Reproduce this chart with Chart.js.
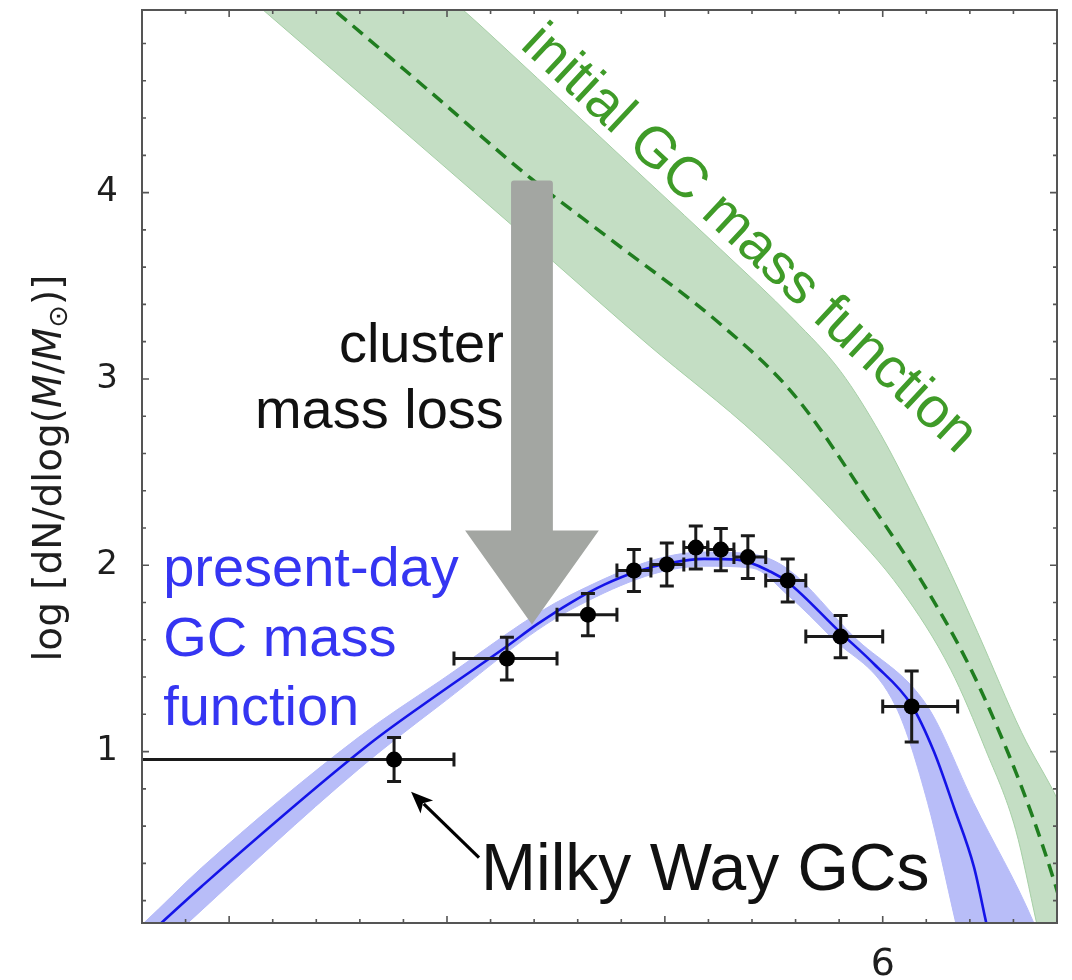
<!DOCTYPE html>
<html>
<head>
<meta charset="utf-8">
<script src="https://cdn.jsdelivr.net/npm/chart.js@4/dist/chart.umd.min.js"></script>
<style>
  html, body { margin: 0; padding: 0; background: #ffffff; }
  #wrap { width: 1072px; height: 980px; position: relative; }
</style>
</head>
<body>
<div id="wrap"><canvas id="gcmf" width="1072" height="980"></canvas></div>
<script>
// ---- axis ranges (log M / log dN/dlogM) ----
const xAxisMin = 2.6, xAxisMax = 6.8;
const yAxisMin = 0.08, yAxisMax = 4.98;
const xLabelTicks = [6];
const yLabelTicks = [1, 2, 3, 4];

// ---- Milky Way globular clusters: binned mass function ----
const gcLogM  = [3.757, 4.275, 4.647, 4.858, 5.009, 5.142, 5.257, 5.381, 5.564, 5.807, 6.133];
const gcLogN  = [0.957, 1.499, 1.735, 1.972, 2.004, 2.095, 2.084, 2.044, 1.918, 1.617, 1.242];
const gcBinLo = [2.300, 4.032, 4.505, 4.780, 4.936, 5.087, 5.197, 5.317, 5.463, 5.647, 6.000];
const gcBinHi = [4.032, 4.505, 4.780, 4.936, 5.087, 5.197, 5.317, 5.463, 5.647, 6.000, 6.344];
const gcErr   = [0.118, 0.115, 0.113, 0.113, 0.115, 0.115, 0.113, 0.115, 0.115, 0.113, 0.190];

// ---- present-day GC mass function (best fit and its uncertainty band) ----
const pdLogM = [2.55, 2.69, 2.872, 3.651, 3.957, 4.275, 4.416, 4.569, 4.722, 4.875, 5.028, 5.180, 5.333, 5.486, 5.563, 5.807, 5.960, 6.132, 6.235, 6.327, 6.419, 6.472, 6.55];
const pdLogN = [-0.065, 0.082, 0.275, 1.047, 1.306, 1.565, 1.685, 1.800, 1.896, 1.968, 2.013, 2.034, 2.030, 1.965, 1.910, 1.637, 1.470, 1.250, 1.000, 0.700, 0.380, 0.098, -0.33];
const pdHiLogM = [2.50, 2.610, 2.872, 3.592, 3.959, 4.569, 5.179, 5.400, 5.564, 5.867, 6.206, 6.417, 6.693, 6.80];
const pdHiLogN = [-0.03, 0.082, 0.375, 1.075, 1.372, 1.842, 2.071, 2.060, 1.980, 1.617, 1.242, 0.726, 0.082, -0.25];
const pdLoLogM = [2.50, 2.812, 3.592, 3.959, 4.569, 5.179, 5.400, 5.564, 5.761, 6.060, 6.206, 6.335, 6.450, 6.80];
const pdLoLogN = [-0.26, 0.082, 0.903, 1.242, 1.762, 1.995, 1.985, 1.840, 1.617, 1.242, 0.726, 0.082, -0.50, -2.50];

// ---- initial GC mass function (median and its band) ----
const imLogM = [3.42, 3.500, 3.927, 4.385, 4.752, 5.257, 5.592, 5.931, 6.183, 6.399, 6.569, 6.688, 6.789, 6.85];
const imLogN = [5.04, 4.962, 4.537, 4.076, 3.748, 3.292, 2.916, 2.353, 1.907, 1.456, 1.011, 0.651, 0.297, 0.05];
const imHiLogM = [3.00, 4.064, 4.248, 4.583, 4.922, 5.257, 5.592, 5.807, 5.991, 6.147, 6.298, 6.436, 6.638, 6.803, 6.95];
const imHiLogN = [6.00, 4.990, 4.795, 4.430, 4.060, 3.695, 3.319, 3.040, 2.702, 2.353, 1.993, 1.639, 1.102, 0.742, 0.35];
const imLoLogM = [3.00, 3.156, 3.697, 4.294, 4.482, 4.922, 5.427, 5.807, 6.083, 6.312, 6.472, 6.610, 6.706, 6.80, 6.95];
const imLoLogN = [5.14, 4.980, 4.435, 3.829, 3.636, 3.185, 2.691, 2.245, 1.870, 1.440, 1.011, 0.581, 0.082, -0.40, -1.40];

// ---- annotation anchors, in data units ----
const massLossArrow = { x: 4.39, top: 4.065, headBase: 2.186, tip: 1.682, shaftHalf: 0.096, headHalf: 0.307 };
const clusterLabel = { x: 4.261, lines: ['cluster', 'mass loss'], baselines: [3.093, 2.734] };
const presentLabel = { x: 2.697, lines: ['present-day', 'GC mass', 'function'], baselines: [1.886, 1.515, 1.145] };
const initialLabel = { x: 5.385, y: 3.748, text: 'initial GC mass function', angleDeg: 43 };
const mwLabel = { x: 4.156, y: 0.259, text: 'Milky Way GCs' };
const mwPointer = { fromX: 4.147, fromY: 0.431, toX: 3.835, toY: 0.785 };

const xy = (xs, ys) => xs.map((v, i) => ({ x: v, y: ys[i] }));

const SANS = '"Liberation Sans", Arial, sans-serif';
const DEJAVU = '"DejaVu Sans", sans-serif';

// error bars underneath the cluster markers
const errorBars = {
  id: 'errorBars',
  beforeDatasetDraw(chart, args) {
    if (chart.data.datasets[args.index].label !== 'Milky Way GCs') return;
    const { ctx, chartArea: a, scales: { x, y } } = chart;
    ctx.save();
    ctx.beginPath();
    ctx.rect(a.left, a.top, a.right - a.left, a.bottom - a.top);
    ctx.clip();
    ctx.strokeStyle = '#1a1a1a';
    ctx.lineWidth = 3;
    const cap = 7;
    gcLogM.forEach((m, i) => {
      const cx = x.getPixelForValue(m), cy = y.getPixelForValue(gcLogN[i]);
      const xl = x.getPixelForValue(gcBinLo[i]), xr = x.getPixelForValue(gcBinHi[i]);
      const yt = y.getPixelForValue(gcLogN[i] + gcErr[i]);
      const yb = y.getPixelForValue(gcLogN[i] - gcErr[i]);
      ctx.beginPath();
      ctx.moveTo(xl, cy); ctx.lineTo(xr, cy);
      ctx.moveTo(cx, yt); ctx.lineTo(cx, yb);
      ctx.moveTo(xl, cy - cap); ctx.lineTo(xl, cy + cap);
      ctx.moveTo(xr, cy - cap); ctx.lineTo(xr, cy + cap);
      ctx.moveTo(cx - cap, yt); ctx.lineTo(cx + cap, yt);
      ctx.moveTo(cx - cap, yb); ctx.lineTo(cx + cap, yb);
      ctx.stroke();
    });
    ctx.restore();
  }
};

// arrow, labels, frame and inward tick marks
const overlay = {
  id: 'overlay',
  afterDatasetsDraw(chart) {
    const { ctx, chartArea: a, scales: { x, y } } = chart;
    const X = v => x.getPixelForValue(v), Y = v => y.getPixelForValue(v);

    // grey "cluster mass loss" arrow
    ctx.save();
    const ax = X(massLossArrow.x);
    const sh = X(massLossArrow.x + massLossArrow.shaftHalf) - ax;
    const hh = X(massLossArrow.x + massLossArrow.headHalf) - ax;
    const top = Y(massLossArrow.top), base = Y(massLossArrow.headBase), tip = Y(massLossArrow.tip);
    const r = 3;
    ctx.fillStyle = '#a3a6a2';
    ctx.beginPath();
    ctx.moveTo(ax - sh, base);
    ctx.lineTo(ax - sh, top + r);
    ctx.quadraticCurveTo(ax - sh, top, ax - sh + r, top);
    ctx.lineTo(ax + sh - r, top);
    ctx.quadraticCurveTo(ax + sh, top, ax + sh, top + r);
    ctx.lineTo(ax + sh, base);
    ctx.lineTo(ax + hh, base);
    ctx.lineTo(ax, tip);
    ctx.lineTo(ax - hh, base);
    ctx.closePath();
    ctx.fill();
    ctx.restore();

    // text labels
    ctx.save();
    ctx.textBaseline = 'alphabetic';
    ctx.font = `56px ${SANS}`;
    ctx.fillStyle = '#111111';
    ctx.textAlign = 'right';
    clusterLabel.lines.forEach((t, i) => ctx.fillText(t, X(clusterLabel.x), Y(clusterLabel.baselines[i])));

    ctx.fillStyle = '#3535f2';
    ctx.textAlign = 'left';
    presentLabel.lines.forEach((t, i) => ctx.fillText(t, X(presentLabel.x), Y(presentLabel.baselines[i])));

    ctx.fillStyle = '#111111';
    ctx.font = `66px ${SANS}`;
    ctx.fillText(mwLabel.text, X(mwLabel.x), Y(mwLabel.y));

    ctx.save();
    ctx.translate(X(initialLabel.x), Y(initialLabel.y));
    ctx.rotate(initialLabel.angleDeg * Math.PI / 180);
    ctx.font = `57px ${SANS}`;
    ctx.fillStyle = '#3f9b28';
    ctx.textAlign = 'center';
    ctx.textBaseline = 'middle';
    ctx.fillText(initialLabel.text, 0, 0);
    ctx.restore();
    ctx.restore();

    // black pointer to the Milky Way data
    ctx.save();
    const fx = X(mwPointer.fromX), fy = Y(mwPointer.fromY);
    const tx = X(mwPointer.toX), ty = Y(mwPointer.toY);
    const ang = Math.atan2(ty - fy, tx - fx);
    const headLen = 22, headW = 9;
    ctx.strokeStyle = '#000';
    ctx.fillStyle = '#000';
    ctx.lineWidth = 3.2;
    ctx.beginPath();
    ctx.moveTo(fx, fy);
    ctx.lineTo(tx - Math.cos(ang) * headLen * 0.8, ty - Math.sin(ang) * headLen * 0.8);
    ctx.stroke();
    ctx.beginPath();
    ctx.moveTo(tx, ty);
    ctx.lineTo(tx - Math.cos(ang) * headLen + Math.sin(ang) * headW, ty - Math.sin(ang) * headLen - Math.cos(ang) * headW);
    ctx.lineTo(tx - Math.cos(ang) * headLen * 0.75, ty - Math.sin(ang) * headLen * 0.75);
    ctx.lineTo(tx - Math.cos(ang) * headLen - Math.sin(ang) * headW, ty - Math.sin(ang) * headLen + Math.cos(ang) * headW);
    ctx.closePath();
    ctx.fill();
    ctx.restore();

    // frame with inward ticks on all four sides
    ctx.save();
    ctx.strokeStyle = '#555555';
    ctx.lineWidth = 1.6;
    ctx.beginPath();
    for (let k = Math.ceil(xAxisMin * 5) + 1; k < Math.floor(xAxisMax * 5); k++) {
      const p = X(k / 5), len = (k % 5 === 0) ? 7 : 4;
      ctx.moveTo(p, a.bottom); ctx.lineTo(p, a.bottom - len);
      ctx.moveTo(p, a.top); ctx.lineTo(p, a.top + len);
    }
    for (let k = Math.ceil(yAxisMin * 5); k <= Math.floor(yAxisMax * 5); k++) {
      const p = Y(k / 5), len = (k % 5 === 0) ? 7 : 4;
      ctx.moveTo(a.left, p); ctx.lineTo(a.left + len, p);
      ctx.moveTo(a.right, p); ctx.lineTo(a.right - len, p);
    }
    ctx.stroke();
    ctx.lineWidth = 2;
    ctx.strokeRect(a.left, a.top, a.right - a.left, a.bottom - a.top);
    ctx.restore();

    // y-axis title: log [dN/dlog(M/M⊙)]
    ctx.save();
    const size = 39;
    const parts = [
      { t: 'log [dN/dlog(', f: `${size}px ${DEJAVU}`, dy: 0 },
      { t: 'M', f: `oblique ${size}px ${DEJAVU}`, dy: 0 },
      { t: '/', f: `${size}px ${DEJAVU}`, dy: 0 },
      { t: 'M', f: `oblique ${size}px ${DEJAVU}`, dy: 0 },
      { t: '\u2299', f: `${Math.round(size * 0.7)}px ${DEJAVU}`, dy: size * 0.22 },
      { t: ')]', f: `${size}px ${DEJAVU}`, dy: 0 }
    ];
    let total = 0;
    parts.forEach(p => { ctx.font = p.f; p.w = ctx.measureText(p.t).width; total += p.w; });
    ctx.translate(51, 468);
    ctx.rotate(-Math.PI / 2);
    ctx.fillStyle = '#1e1e1e';
    ctx.textBaseline = 'middle';
    let cx = -total / 2;
    parts.forEach(p => { ctx.font = p.f; ctx.fillText(p.t, cx, p.dy); cx += p.w; });
    ctx.restore();
  }
};

new Chart(document.getElementById('gcmf'), {
  type: 'line',
  data: {
    datasets: [
      { label: 'initial band upper', data: xy(imHiLogM, imHiLogN), borderColor: '#a6cfa6', borderWidth: 1,
        backgroundColor: '#c4dec4', fill: '+1', pointRadius: 0, cubicInterpolationMode: 'monotone', order: 10 },
      { label: 'initial band lower', data: xy(imLoLogM, imLoLogN), borderColor: '#a6cfa6', borderWidth: 1,
        fill: false, pointRadius: 0, cubicInterpolationMode: 'monotone', order: 9 },
      { label: 'initial GC mass function', data: xy(imLogM, imLogN), borderColor: '#1f7d1f', borderWidth: 3.5,
        borderDash: [13, 8], fill: false, pointRadius: 0, cubicInterpolationMode: 'monotone', order: 8 },
      { label: 'present-day band upper', data: xy(pdHiLogM, pdHiLogN), borderColor: '#b6bbf8', borderWidth: 1,
        backgroundColor: '#b8bdf8', fill: '+1', pointRadius: 0, cubicInterpolationMode: 'monotone', order: 7 },
      { label: 'present-day band lower', data: xy(pdLoLogM, pdLoLogN), borderColor: '#b6bbf8', borderWidth: 1,
        fill: false, pointRadius: 0, cubicInterpolationMode: 'monotone', order: 6 },
      { label: 'present-day GC mass function', data: xy(pdLogM, pdLogN), borderColor: '#1414e8', borderWidth: 2.6,
        fill: false, pointRadius: 0, cubicInterpolationMode: 'monotone', order: 5 },
      { label: 'Milky Way GCs', data: xy(gcLogM, gcLogN), showLine: false, pointRadius: 8,
        pointBackgroundColor: '#000000', pointBorderColor: '#000000', pointBorderWidth: 0, order: 1 }
    ]
  },
  options: {
    responsive: false,
    animation: false,
    events: [],
    layout: { autoPadding: false, padding: { top: 10, right: 15, left: 0, bottom: 0 } },
    plugins: { legend: { display: false }, tooltip: { enabled: false } },
    scales: {
      x: {
        type: 'linear', position: 'bottom', min: xAxisMin, max: xAxisMax,
        afterFit: s => { s.height = 57; s.paddingLeft = 0; s.paddingRight = 0; },
        afterBuildTicks: s => { s.ticks = xLabelTicks.map(v => ({ value: v })); },
        grid: { display: false, drawTicks: false },
        border: { display: false },
        ticks: { font: { family: DEJAVU, size: 38 }, color: '#1e1e1e', padding: 19, maxRotation: 0, autoSkip: false,
                 callback: v => String(v) }
      },
      y: {
        type: 'linear', position: 'left', min: yAxisMin, max: yAxisMax,
        afterFit: s => { s.width = 142; s.paddingTop = 0; s.paddingBottom = 0; },
        afterBuildTicks: s => { s.ticks = yLabelTicks.map(v => ({ value: v })); },
        grid: { display: false, drawTicks: false },
        border: { display: false },
        ticks: { font: { family: DEJAVU, size: 34 }, color: '#1e1e1e', padding: 24, autoSkip: false,
                 callback: v => String(v) }
      }
    }
  },
  plugins: [errorBars, overlay]
});
</script>
</body>
</html>
